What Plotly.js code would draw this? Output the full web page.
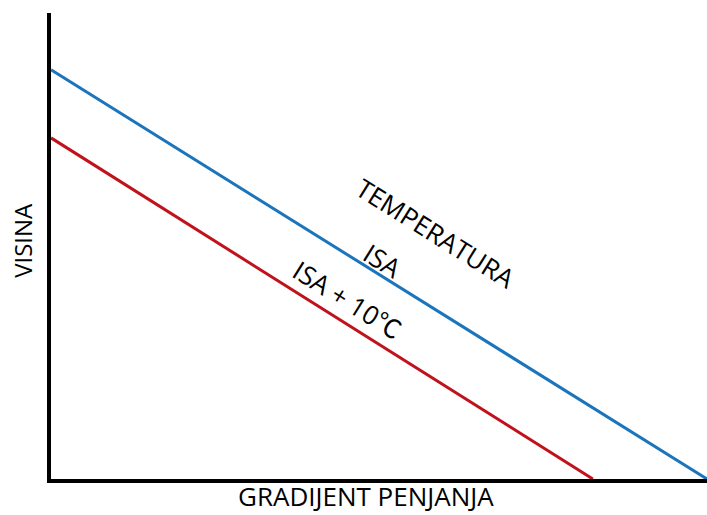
<!DOCTYPE html>
<html><head><meta charset="utf-8">
<script src="https://cdn.plot.ly/plotly-3.0.1.min.js"></script>
<style>html,body{margin:0;padding:0;background:#fff}</style>
</head><body>
<div id="chart" style="width:707px;height:515px"></div>
<script>
const isaX = [0, 100];
const isaY = [87.8, 0];
const isa10X = [0, 82.6];
const isa10Y = [73.2, 0];
const labels = ["TEMPERATURA", "ISA", "ISA + 10<span style=\"font-family:Noto Sans CJK SC\">℃</span>"];
const labelX = [58.6, 50.6, 45.3];
const labelY = [52.7, 46.7, 38.6];
const xTitle = "GRADIJENT PENJANJA";
const yTitle = "VISINA";

const traces = [
  {x: isaX, y: isaY, mode: "lines", line: {color: "#1b75bc", width: 3}, hoverinfo: "skip"},
  {x: isa10X, y: isa10Y, mode: "lines", line: {color: "#c1121c", width: 3}, hoverinfo: "skip"}
];
const font = "Open Sans, Noto Sans, sans-serif";
const annotations = labels.map((t, i) => ({
  x: labelX[i], y: labelY[i], xref: "x", yref: "y", text: t, showarrow: false,
  textangle: 32, font: {family: font, size: 26, color: "#000"}
}));
annotations.push({
  x: 0.48, y: 0, xref: "paper", yref: "paper", yanchor: "middle", xanchor: "center",
  yshift: -17, text: xTitle, showarrow: false,
  font: {family: font, size: 26, color: "#000"}
});
annotations.push({
  x: 0, y: 0.511, xref: "paper", yref: "paper", yanchor: "middle", xanchor: "center",
  xshift: -28, text: yTitle, showarrow: false, textangle: -90,
  font: {family: font, size: 24, color: "#000"}
});
const layout = {
  width: 707, height: 515,
  margin: {l: 51, r: 0, t: 13, b: 36},
  paper_bgcolor: "#fff", plot_bgcolor: "#fff",
  showlegend: false,
  xaxis: {range: [0, 100], showgrid: false, zeroline: false, showticklabels: false, ticks: "",
          showline: true, linewidth: 4, linecolor: "#000"},
  yaxis: {range: [0, 100], showgrid: false, zeroline: false, showticklabels: false, ticks: "",
          showline: true, linewidth: 4, linecolor: "#000"},
  annotations: annotations
};
Plotly.newPlot("chart", traces, layout, {staticPlot: true, displayModeBar: false});
</script>
</body></html>
